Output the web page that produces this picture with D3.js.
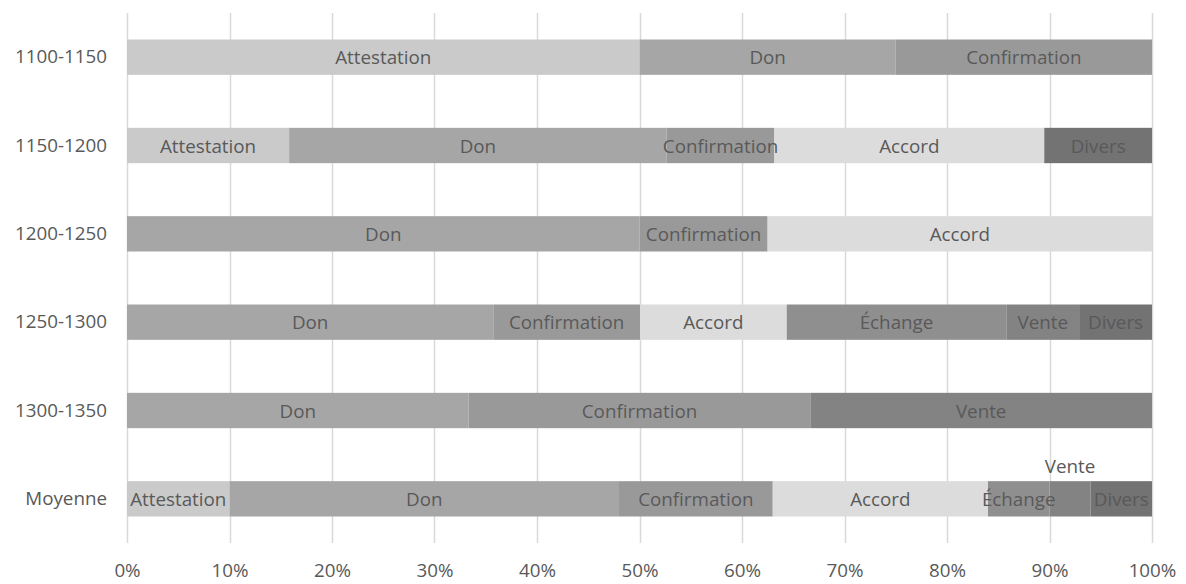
<!DOCTYPE html>
<html>
<head>
<meta charset="utf-8">
<script src="https://cdn.jsdelivr.net/npm/d3@7"></script>
<style>
  html, body { margin: 0; padding: 0; background: #fff; }
  svg { display: block; }
  text { font-family: "Open Sans", "Noto Sans", sans-serif; fill: #595959; }
</style>
</head>
<body>
<script>
const categories = ["1100-1150", "1150-1200", "1200-1250", "1250-1300", "1300-1350", "Moyenne"];
const seriesNames = ["Attestation", "Don", "Confirmation", "Accord", "Échange", "Vente", "Divers"];
const attestation  = [50, 15.8, 0,    0,    0,    10];
const don          = [25, 36.8, 50,   35.7, 33.3, 38];
const confirmation = [25, 10.5, 12.5, 14.3, 33.3, 15];
const accord       = [0,  26.3, 37.5, 14.3, 0,    21];
const echange      = [0,  0,    0,    21.4, 0,    6];
const vente        = [0,  0,    0,    7.1,  33.3, 4];
const divers       = [0,  10.5, 0,    7.1,  0,    6];
const tickValues = [0, 0.1, 0.2, 0.3, 0.4, 0.5, 0.6, 0.7, 0.8, 0.9, 1];
const seriesColors = ["#cacaca", "#a6a6a6", "#999999", "#dcdcdc", "#8f8f8f", "#838383", "#737373"];
const liftedLabels = [["Moyenne", "Vente"]];

const seriesValues = [attestation, don, confirmation, accord, echange, vente, divers];
const table = categories.map((c, i) => {
  const row = { cat: c };
  seriesNames.forEach((s, j) => row[s] = seriesValues[j][i]);
  return row;
});

const W = 1186, H = 584;
const margin = { left: 127, right: 34, top: 13, bottom: 41 };
const FS = "18.8px";

const svg = d3.select("body").append("svg").attr("width", W).attr("height", H);

const x = d3.scaleLinear().domain([0, 1]).range([margin.left, W - margin.right]);
const y = d3.scaleBand().domain(categories).range([margin.top, H - margin.bottom])
  .paddingInner(0.6).paddingOuter(0.3);

// gridlines
svg.append("g").selectAll("line").data(tickValues).join("line")
  .attr("x1", d => Math.round(x(d)) + 0.5).attr("x2", d => Math.round(x(d)) + 0.5)
  .attr("y1", margin.top).attr("y2", H - margin.bottom)
  .attr("stroke", "#d9d9d9").attr("stroke-width", 1.5);

const stack = d3.stack().keys(seriesNames).offset(d3.stackOffsetExpand);
const stacked = stack(table);

const colour = d3.scaleOrdinal().domain(seriesNames).range(seriesColors);

const groups = svg.append("g").selectAll("g").data(stacked).join("g")
  .attr("fill", d => colour(d.key));

groups.selectAll("rect").data(d => d.map(p => ({ key: d.key, p })))
  .join("rect")
  .attr("x", d => x(d.p[0]))
  .attr("width", d => x(d.p[1]) - x(d.p[0]))
  .attr("y", d => y(d.p.data.cat))
  .attr("height", y.bandwidth());

// labels
const labels = [];
stacked.forEach(s => s.forEach(p => {
  if (p[1] - p[0] > 1e-6) labels.push({ key: s.key, p });
}));
const isLifted = d => liftedLabels.some(l => l[0] === d.p.data.cat && l[1] === d.key);

svg.append("g").selectAll("text").data(labels).join("text")
  .attr("x", d => x((d.p[0] + d.p[1]) / 2))
  .attr("y", d => y(d.p.data.cat) + y.bandwidth() / 2 - (isLifted(d) ? 33 : 0))
  .attr("text-anchor", "middle")
  .attr("dominant-baseline", "central")
  .style("font-size", FS)
  .attr("fill", "#555555")
  .text(d => d.key);

// y axis labels
const yAxis = d3.axisLeft(y).tickSize(0).tickPadding(20);
const yg = svg.append("g").attr("transform", `translate(${margin.left},0)`).call(yAxis);
yg.select(".domain").remove();
yg.selectAll("text").style("font-size", FS).style("font-family", "'Open Sans', sans-serif").attr("fill", "#595959");

// x axis labels
const xAxis = d3.axisBottom(x).tickValues(tickValues).tickFormat(d3.format(".0%")).tickSize(0).tickPadding(21);
const xg = svg.append("g").attr("transform", `translate(0,${H - margin.bottom})`).call(xAxis);
xg.select(".domain").remove();
xg.selectAll("text").style("font-size", FS).style("font-family", "'Open Sans', sans-serif").attr("fill", "#595959");
</script>
</body>
</html>
